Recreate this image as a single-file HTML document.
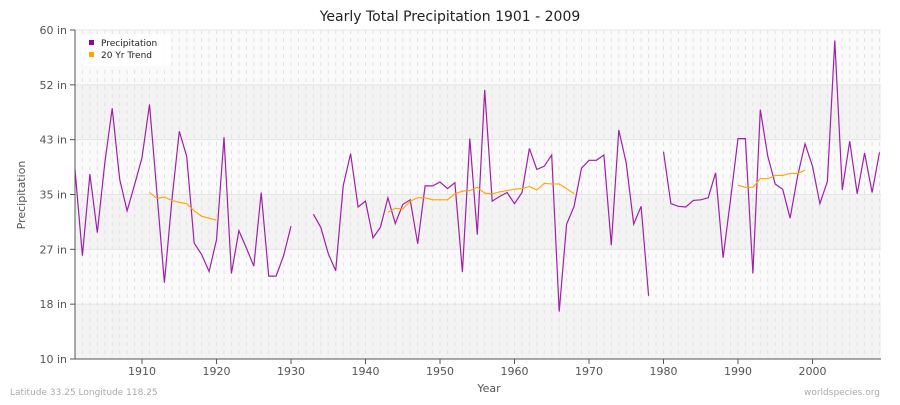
<!DOCTYPE html>
<html><head><meta charset="utf-8">
<style>
body{margin:0;background:#fff;font-family:"Liberation Sans",sans-serif;}
svg text{font-family:"DejaVu Sans","Liberation Sans",sans-serif;}
</style></head>
<body>
<svg id="chart" width="900" height="400" xmlns="http://www.w3.org/2000/svg">
<text x="450" y="21" text-anchor="middle" font-size="14" fill="#222">Yearly Total Precipitation 1901 - 2009</text>
<g id="bg"></g><g id="grid"></g><g id="series"></g><g id="axes"></g>
<g>
<rect x="81" y="34" width="90" height="32" rx="4" fill="#fff" opacity="0.9"/>
<rect x="89" y="40" width="5" height="5" fill="#990099"/>
<text x="101" y="46" font-size="9" fill="#222">Precipitation</text>
<rect x="89" y="52" width="5" height="5" fill="#ffa500"/>
<text x="101" y="58" font-size="9" fill="#222">20 Yr Trend</text>
</g>
<text x="489" y="392" text-anchor="middle" font-size="11" fill="#555">Year</text>
<text transform="translate(25,195) rotate(-90)" text-anchor="middle" font-size="11" fill="#555">Precipitation</text>
<text x="10" y="395" font-size="9" fill="#aaa">Latitude 33.25 Longitude 118.25</text>
<text x="880" y="395" text-anchor="end" font-size="9" fill="#aaa">worldspecies.org</text>
</svg>
<script>
const startYear = 1901;
const precip = [38.8,25.7,38.1,29.2,39.8,48.1,37.3,32.5,36.5,40.6,
48.7,35.3,21.6,34,44.6,40.8,27.6,25.9,23.3,28.1,
43.7,23.0,29.5,26.9,24.1,35.3,22.6,22.6,25.7,30.2,
null,null,32.0,30.0,26.0,23.4,36.3,41.2,33.1,34.0,
28.4,30.0,34.5,30.6,33.5,34.2,27.5,36.3,36.3,36.9,
35.9,36.8,23.2,43.5,28.9,50.9,34.0,34.7,35.3,33.6,
35.3,42.0,38.8,39.3,41.0,17.2,30.5,33.2,39.0,40.2,
40.2,41.0,27.3,44.8,39.8,30.5,33.2,19.6,null,41.5,
33.6,33.2,33.1,34.1,34.2,34.5,38.3,25.4,34.2,43.5,
43.5,23.0,47.9,40.8,36.6,35.8,31.4,37.8,42.7,39.3,
33.6,37.0,58.4,35.7,43.1,35.1,41.3,35.3,41.4];
const trend = [null,null,null,null,null,null,null,null,null,null,
35.3,34.4,34.6,34.1,33.8,33.6,32.5,31.7,31.4,31.1,
null,null,null,null,null,null,null,null,null,null,
null,null,null,null,null,null,null,null,null,null,
null,null,32.3,32.9,32.8,34.0,34.5,34.5,34.2,34.2,
34.2,35.1,35.5,35.6,36.1,35.2,35.1,35.4,35.6,35.8,
35.9,36.2,35.7,36.7,36.6,36.6,35.9,35.1,null,null,
null,null,null,null,null,null,null,null,null,null,
null,null,null,null,null,null,null,null,null,36.4,
36.1,36.1,37.4,37.4,37.9,37.9,38.2,38.2,38.7];
const yTicks = [10,18,27,35,43,52,60];
const xTicks = [1910,1920,1930,1940,1950,1960,1970,1980,1990,2000];

const NS="http://www.w3.org/2000/svg";
const L=75,R=881,T=30,B=359;
const x=yr=>L+(yr-1901)*(R-L)/(2009.2-1901);
const y=v=>B-(v-10)*(B-T)/50;
function mk(tag,attrs,parent){const e=document.createElementNS(NS,tag);for(const k in attrs)e.setAttribute(k,attrs[k]);parent.appendChild(e);return e;}
const bg=document.getElementById('bg'),grid=document.getElementById('grid'),series=document.getElementById('series'),axes=document.getElementById('axes');
for(let i=0;i<6;i++){
  const y0=T+i*(B-T)/6;
  const r=mk('rect',{x:L,y:y0,width:R-L,height:(B-T)/6,fill:i%2?'#f3f3f3':'#fafafa'},bg);
  
  
}
for(let yr=1902;yr<=2009;yr++){
  const gl=mk('line',{x1:x(yr),x2:x(yr),y1:T,y2:B,stroke:'#e2e2e2','stroke-width':1,'stroke-dasharray':'4,4'},grid);
  
  
}
for(let i=0;i<=6;i++){
  const yy=T+i*(B-T)/6;
  const gl=mk('line',{x1:L,x2:R,y1:yy,y2:yy,stroke:'#e4e4e4','stroke-width':1},grid);
  
  
}
function drawLine(arr,color,w,name){
  let d='',pen=false;
  arr.forEach((v,i)=>{if(v==null){pen=false;return;}d+=(pen?'L':'M')+x(startYear+i).toFixed(1)+','+y(v).toFixed(1);pen=true;});
  const p=mk('path',{d:d,fill:'none',stroke:color,'stroke-width':w},series);
  
  
}
drawLine(precip,'#a020a8',1.2,'precipitation-line');
drawLine(trend,'#ffa500',1.1,'trend-line');
mk('line',{x1:L,x2:L,y1:T,y2:B,stroke:'#555'},axes);
mk('line',{x1:L,x2:R,y1:B,y2:B,stroke:'#555'},axes);
const labels=['10 in','18 in','27 in','35 in','43 in','52 in','60 in'];
yTicks.forEach((v,i)=>{
  const yy=B-i*(B-T)/6;
  mk('line',{x1:L-5,x2:L,y1:yy,y2:yy,stroke:'#555'},axes);
  const t=mk('text',{x:L-8,y:yy+4,'text-anchor':'end','font-size':11,fill:'#555'},axes);
  t.textContent=labels[i];
  
  
});
xTicks.forEach(yr=>{
  mk('line',{x1:x(yr),x2:x(yr),y1:B,y2:B+5,stroke:'#555'},axes);
  const t=mk('text',{x:x(yr),y:B+16,'text-anchor':'middle','font-size':11,fill:'#555'},axes);
  t.textContent=yr;
  
  
});
</script>
</body></html>
